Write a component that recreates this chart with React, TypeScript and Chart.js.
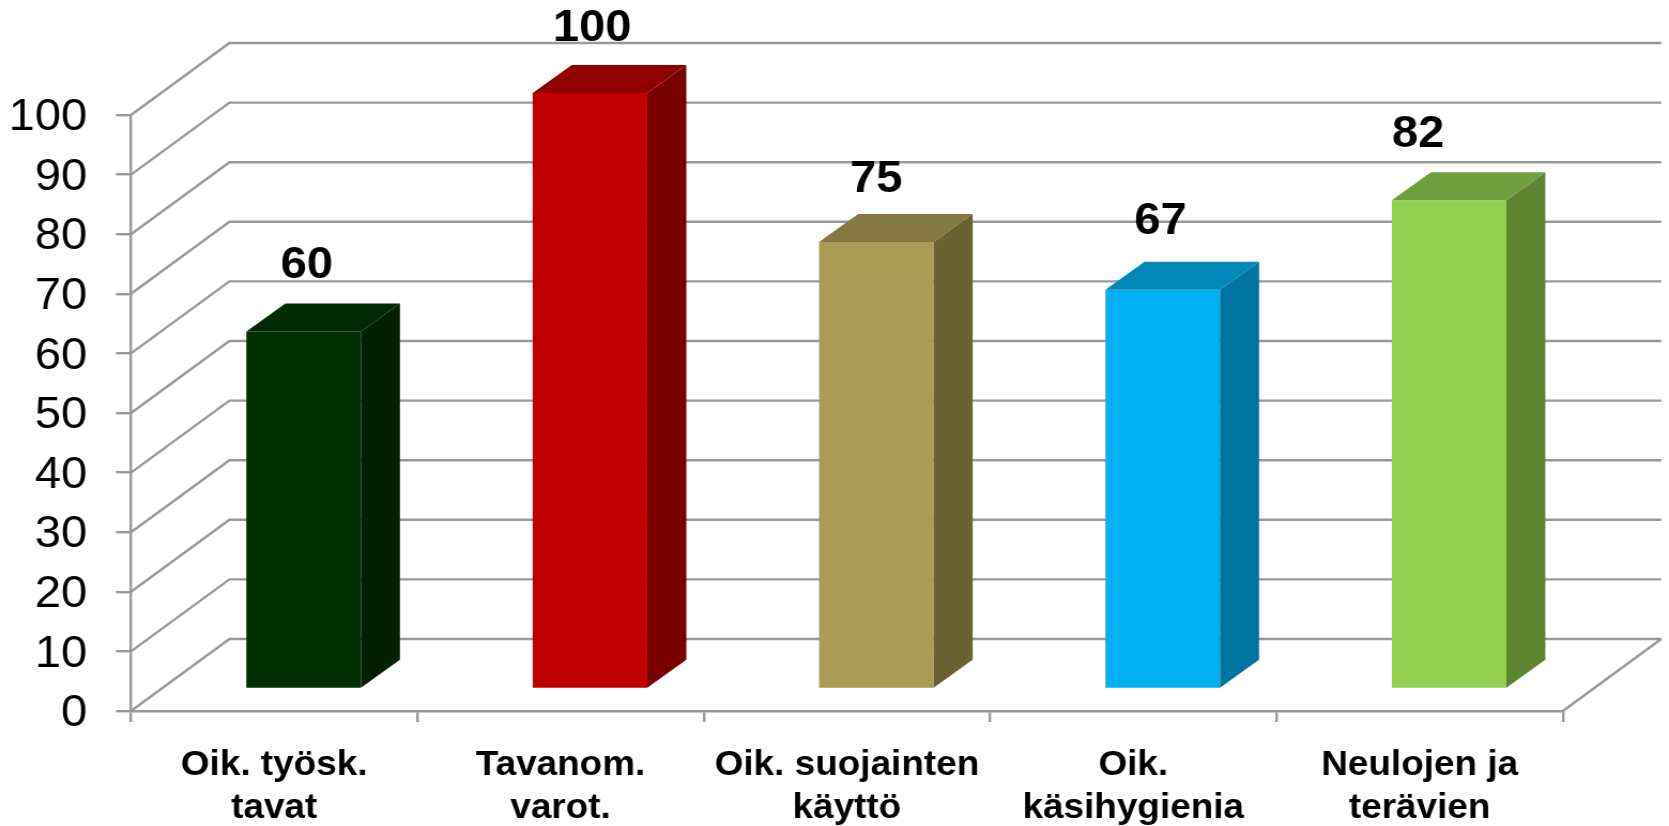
import React, { useEffect, useRef } from "react";
import { Chart, registerables } from "chart.js";

Chart.register(...registerables);

const categories = [
  ["Oik. työsk.", "tavat"],
  ["Tavanom.", "varot."],
  ["Oik. suojainten", "käyttö"],
  ["Oik.", "käsihygienia"],
  ["Neulojen ja", "terävien"],
];
const values = [60, 100, 75, 67, 82];
const frontColors = ["#033003", "#C00000", "#AB9C55", "#00B0F0", "#92D050"];
const topColors = ["#022A02", "#900000", "#857840", "#0088B8", "#70A03E"];
const sideColors = ["#022002", "#780000", "#6B6234", "#0073A0", "#5F8533"];
const yTicks = { min: 0, max: 100, step: 10 };

const STRETCH = 1.07;
const CANVAS_W = Math.round(1669 / STRETCH);
const GRID = "#999999";

const scene = {
  wallDx: 92,
  wallDy: -72,
  barDx: 27.5,
  barDy: -22,
  sideDx: 36.5,
  sideDy: -28,
  labelDx: [3, 2, 0, -2, -29],
  labelGap: [53, 52, 50, 56, 53],
  yLabelDrop: 3,
};

const scene3d = {
  id: "scene3d",
  beforeDraw(chart: any) {
    chart.scales.y.getLabelItems().forEach((item: any) => {
      if (!item.dropped) {
        item.options.translation[1] += scene.yLabelDrop;
        item.dropped = true;
      }
    });
  },
  beforeDatasetsDraw(chart: any) {
    const { ctx, scales } = chart;
    const { x, y } = scales;
    ctx.save();
    ctx.strokeStyle = GRID;
    ctx.lineWidth = 2.4;
    ctx.lineJoin = "round";
    y.ticks.forEach((_: any, i: number) => {
      const py = y.getPixelForTick(i);
      ctx.beginPath();
      ctx.moveTo(x.left, py);
      ctx.lineTo(x.left + scene.wallDx, py + scene.wallDy);
      ctx.lineTo(x.right + scene.wallDx, py + scene.wallDy);
      ctx.stroke();
    });
    ctx.beginPath();
    ctx.moveTo(x.right, y.bottom);
    ctx.lineTo(x.right + scene.wallDx, y.bottom + scene.wallDy);
    ctx.stroke();
    ctx.restore();
  },
  beforeDatasetDraw(chart: any) {
    chart.ctx.save();
    chart.ctx.translate(scene.barDx, scene.barDy);
  },
  afterDatasetDraw(chart: any, args: any) {
    const { ctx } = chart;
    const bars = chart.getDatasetMeta(args.index).data;
    bars.forEach((bar: any, i: number) => {
      const { x, y, base, width } = bar.getProps(["x", "y", "base", "width"], true);
      const r = x + width / 2;
      const l = x - width / 2;
      ctx.fillStyle = sideColors[i];
      ctx.beginPath();
      ctx.moveTo(r, y);
      ctx.lineTo(r + scene.sideDx, y + scene.sideDy);
      ctx.lineTo(r + scene.sideDx, base + scene.sideDy);
      ctx.lineTo(r, base);
      ctx.closePath();
      ctx.fill();
      ctx.fillStyle = topColors[i];
      ctx.beginPath();
      ctx.moveTo(l, y);
      ctx.lineTo(l + scene.sideDx, y + scene.sideDy);
      ctx.lineTo(r + scene.sideDx, y + scene.sideDy);
      ctx.lineTo(r, y);
      ctx.closePath();
      ctx.fill();
      ctx.fillStyle = "#000";
      ctx.font = 'bold 44px "Liberation Sans"';
      ctx.textAlign = "center";
      ctx.textBaseline = "alphabetic";
      ctx.fillText(String(values[i]), x + scene.labelDx[i], y - scene.labelGap[i]);
    });
    ctx.restore();
  },
};

export default function App() {
  const ref = useRef<HTMLCanvasElement>(null);
  useEffect(() => {
    document.body.style.margin = "0";
    document.body.style.overflow = "hidden";
    document.body.style.background = "#fff";
    const chart = new Chart(ref.current!, {
      type: "bar",
      data: {
        labels: categories,
        datasets: [
          {
            data: values,
            backgroundColor: frontColors,
            barPercentage: 0.4,
            categoryPercentage: 1,
            clip: false,
          } as any,
        ],
      },
      plugins: [scene3d],
      options: {
        animation: false,
        responsive: false,
        devicePixelRatio: 1,
        layout: { padding: { top: 115, right: CANVAS_W - 1563 / STRETCH, left: 0, bottom: 0 } },
        plugins: { legend: { display: false }, tooltip: { enabled: false }, title: { display: false } },
        scales: {
          x: {
            afterFit(s: any) {
              s.height = 826 - 711;
            },
            grid: { drawOnChartArea: false, drawTicks: true, tickLength: 11, color: GRID, lineWidth: 2.4 },
            border: { display: true, color: GRID, width: 2.4 },
            ticks: {
              maxRotation: 0,
              autoSkip: false,
              padding: 22,
              color: "#000",
              font: { family: '"Liberation Sans"', size: 34.5, weight: "bold", lineHeight: 1.25 },
            },
          },
          y: {
            min: yTicks.min,
            max: yTicks.max,
            afterFit(s: any) {
              s.width = 131 / STRETCH;
            },
            grid: { drawOnChartArea: false, drawTicks: true, tickLength: 14, color: GRID, lineWidth: 2.4 },
            border: { display: true, color: GRID, width: 2.4 },
            ticks: {
              stepSize: yTicks.step,
              padding: 27,
              color: "#000",
              font: { family: '"Liberation Sans"', size: 44 },
            },
          },
        },
      } as any,
    });
    return () => chart.destroy();
  }, []);
  return (
    <div style={{ position: "fixed", left: 0, top: 0, width: 1669, height: 826, overflow: "hidden", background: "#fff" }}>
      <canvas
        ref={ref}
        width={CANVAS_W}
        height={826}
        style={{
          display: "block",
          width: CANVAS_W,
          height: 826,
          transformOrigin: "0 0",
          transform: `scaleX(${1669 / CANVAS_W})`,
          filter: "blur(0.5px)",
        }}
      />
    </div>
  );
}
